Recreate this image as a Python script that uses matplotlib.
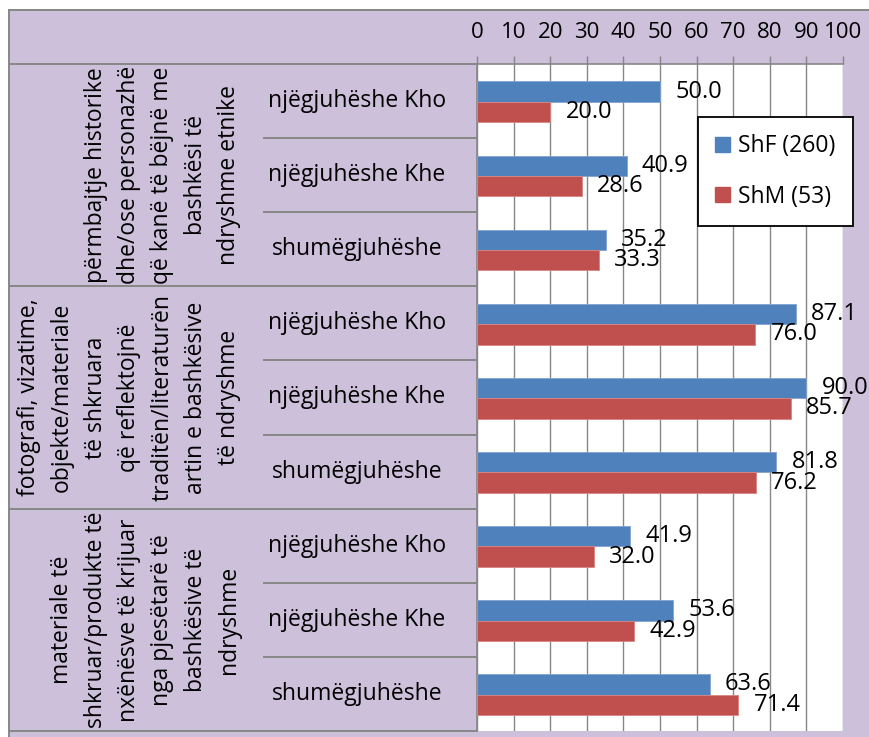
import matplotlib
matplotlib.use('Agg')
import matplotlib.pyplot as plt
import numpy as np
from matplotlib.patches import Rectangle, Patch

plt.rcParams['font.family'] = ['Open Sans', 'DejaVu Sans']

# te dhenat
grupet = [
    'përmbajtje historike\ndhe/ose personazhë\nqë kanë të bëjnë me\nbashkësi të\nndryshme etnike',
    'fotografi, vizatime,\nobjekte/materiale\ntë shkruara\nqë reflektojnë\ntraditën/literaturën\nartin e bashkësive\ntë ndryshme',
    'materiale të\nshkruar/produkte të\nnxënësve të krijuar\nnga pjesëtarë të\nbashkësive të\nndryshme',
]
kategorite = ['njëgjuhëshe Kho', 'njëgjuhëshe Khe', 'shumëgjuhëshe']
seria = ['ShF (260)', 'ShM (53)']
shf = [50.0, 40.9, 35.2, 87.1, 90.0, 81.8, 41.9, 53.6, 63.6]
shm = [20.0, 28.6, 33.3, 76.0, 85.7, 76.2, 32.0, 42.9, 71.4]
x_ticks = list(range(0, 101, 10))

BLU = '#4f81bd'
KUQ = '#c0504d'
LAV = '#ccc0da'
GRI = '#878787'

W, H = 869, 737
fig = plt.figure(figsize=(W / 100, H / 100), dpi=100, facecolor='white')

# sfondi i tabeles
fig.patches.append(Rectangle((9 / W, -0.05), 1.2, 1.05 - 10 / H,
                             transform=fig.transFigure, facecolor=LAV,
                             edgecolor=GRI, lw=1.4, zorder=-5))

n = len(shf)
y = np.arange(n)
ax_t = fig.add_axes([9 / W, 6 / H, 468 / W, 667 / H])
ax = fig.add_axes([477 / W, 6 / H, 366 / W, 667 / H])

# kolonat majtas: grupet dhe kategorite
ax_t.set_xlim(0, 468)
ax_t.set_ylim(n - 0.5, -0.5)
ax_t.axis('off')
for g, teksti in enumerate(grupet):
    ax_t.text(232, g * 3 + 1, teksti, rotation=90, ha='right', va='center',
              multialignment='center', linespacing=1.52, fontsize=16.5)
    for k, kat in enumerate(kategorite):
        ax_t.text(348, g * 3 + k, kat, ha='center', va='center', fontsize=16.5)
    for k in (1, 2):
        ax_t.plot([255, 468], [g * 3 + k - 0.5] * 2, color=GRI, lw=1.4,
                  clip_on=False)
for b in range(0, n + 1, 3):
    ax_t.plot([0, 468], [b - 0.5] * 2, color=GRI, lw=1.4, clip_on=False)

# shiritat
h = 0.275
ax.barh(y - h / 2 + 0.01, shf, height=h, color=BLU, edgecolor='#7fa3d0',
        lw=0.6, label=seria[0], zorder=3)
ax.barh(y + h / 2 + 0.01, shm, height=h, color=KUQ, edgecolor='#d98583',
        lw=0.6, label=seria[1], zorder=3)
for i in range(n):
    ax.annotate(f'{shf[i]:.1f}', (shf[i], y[i] - h / 2 + 0.01), xytext=(11, 0),
                textcoords='offset points', ha='left', va='center',
                fontsize=17, annotation_clip=False, zorder=4)
    ax.annotate(f'{shm[i]:.1f}', (shm[i], y[i] + h / 2 + 0.01), xytext=(11, 0),
                textcoords='offset points', ha='left', va='center',
                fontsize=17, annotation_clip=False, zorder=4)

ax.set_xlim(0, 100)
ax.set_ylim(n - 0.5, -0.5)
ax.set_facecolor('white')
ax.set_xticks(x_ticks)
ax.xaxis.tick_top()
ax.tick_params(axis='x', top=True, bottom=False, length=5.8, width=1,
               color=GRI, labelsize=16, pad=9)
ax.set_yticks([])
ax.grid(axis='x', color=GRI, lw=1.0, zorder=0)
ax.set_axisbelow(True)
for s in ('right', 'bottom'):
    ax.spines[s].set_visible(False)
for s in ('left', 'top'):
    ax.spines[s].set_color(GRI)
    ax.spines[s].set_linewidth(1.2)

leg = ax.legend(handles=[Patch(color=BLU, label=seria[0]),
                         Patch(color=KUQ, label=seria[1])],
                loc='upper left', bbox_to_anchor=(0.604, 0.9205),
                fontsize=16.5, frameon=True, fancybox=False, framealpha=1,
                edgecolor='black', handlelength=0.65, handleheight=0.65,
                handletextpad=0.35, labelspacing=1.15, borderpad=0.75,
                borderaxespad=0)
leg.get_frame().set_linewidth(1.3)
leg.set_zorder(5)

fig.savefig('out.png', dpi=100, facecolor='white')
